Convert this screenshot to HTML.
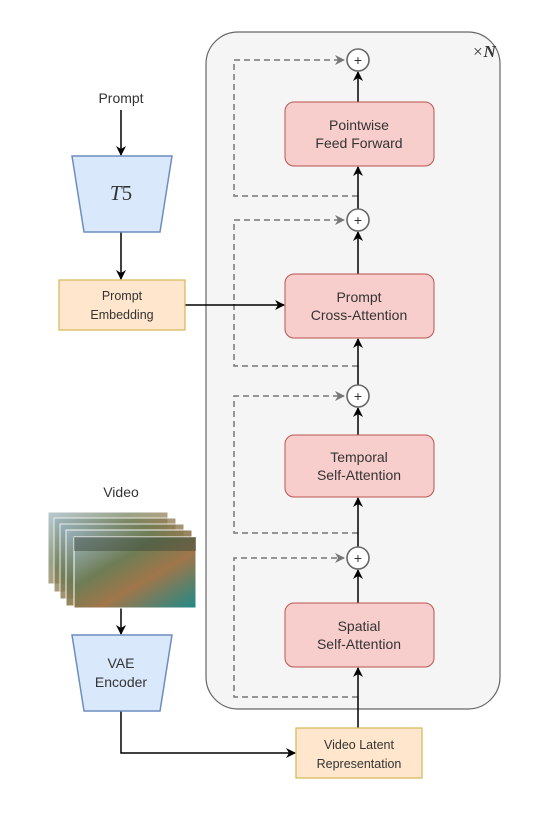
<!DOCTYPE html>
<html><head><meta charset="utf-8"><style>
body{margin:0;background:#fff;}
svg text{font-family:"Liberation Sans",sans-serif;fill:#333;}
</style></head><body>
<svg width="555" height="808" viewBox="0 0 555 808" xmlns="http://www.w3.org/2000/svg">
<defs>
<marker id="a" markerWidth="10" markerHeight="10" refX="9" refY="5" orient="auto" markerUnits="userSpaceOnUse"><path d="M0,0 L10,5 L0,10 L3,5 z" fill="#000"/></marker>
<marker id="g" markerWidth="10" markerHeight="10" refX="9" refY="5" orient="auto" markerUnits="userSpaceOnUse"><path d="M0,0 L10,5 L0,10 L3,5 z" fill="#777"/></marker>
<linearGradient id="img" x1="0" y1="0" x2="1" y2="1">
<stop offset="0" stop-color="#9bb3c0"/><stop offset="0.35" stop-color="#6e7d55"/><stop offset="0.6" stop-color="#a0764a"/><stop offset="1" stop-color="#1f8a88"/></linearGradient>
</defs>
<rect x="206" y="32" width="294" height="677" rx="32" fill="#f5f5f5" stroke="#666" stroke-width="1.2"/>
<text x="472" y="57" font-size="17" font-style="italic" style="font-family:'Liberation Serif',serif">×<tspan font-weight="bold">N</tspan></text>

<g fill="none" stroke="#777" stroke-width="1.5" stroke-dasharray="6,4">
<path d="M358 196 H234 V60 H344" marker-end="url(#g)"/>
<path d="M358 366 H234 V220 H344" marker-end="url(#g)"/>
<path d="M358 533 H234 V396 H344" marker-end="url(#g)"/>
<path d="M358 697 H234 V558 H344" marker-end="url(#g)"/>
</g>
<g stroke="#000" stroke-width="1.5" fill="none">
<line x1="358" y1="728" x2="358" y2="668" marker-end="url(#a)"/>
<line x1="358" y1="603" x2="358" y2="570" marker-end="url(#a)"/>
<line x1="358" y1="547" x2="358" y2="498" marker-end="url(#a)"/>
<line x1="358" y1="435" x2="358" y2="408" marker-end="url(#a)"/>
<line x1="358" y1="385" x2="358" y2="339" marker-end="url(#a)"/>
<line x1="358" y1="274" x2="358" y2="232" marker-end="url(#a)"/>
<line x1="358" y1="209" x2="358" y2="167" marker-end="url(#a)"/>
<line x1="358" y1="102" x2="358" y2="72" marker-end="url(#a)"/>
<line x1="121" y1="110" x2="121" y2="155" marker-end="url(#a)"/>
<line x1="121" y1="232" x2="121" y2="279" marker-end="url(#a)"/>
<line x1="185" y1="305" x2="284" y2="305" marker-end="url(#a)"/>
<line x1="121" y1="608" x2="121" y2="634" marker-end="url(#a)"/>
<path d="M121 711 V753 H295" marker-end="url(#a)"/>
</g>
<g fill="#fff" stroke="#666" stroke-width="1.6">
<circle cx="358" cy="60" r="11"/><circle cx="358" cy="220" r="11"/><circle cx="358" cy="396" r="11"/><circle cx="358" cy="558" r="11"/>
</g>
<g font-size="14" text-anchor="middle">
<text x="358" y="65">+</text><text x="358" y="225">+</text><text x="358" y="401">+</text><text x="358" y="563">+</text>
</g>
<g fill="#f8cecc" stroke="#b85450" stroke-width="1">
<rect x="285" y="102" width="149" height="64" rx="9"/>
<rect x="285" y="274" width="149" height="64" rx="9"/>
<rect x="285" y="435" width="149" height="62" rx="9"/>
<rect x="285" y="603" width="149" height="64" rx="9"/>
</g>
<g font-size="14" text-anchor="middle">
<text x="359" y="130">Pointwise</text><text x="359" y="148">Feed Forward</text>
<text x="359" y="302">Prompt</text><text x="359" y="320">Cross-Attention</text>
<text x="359" y="462">Temporal</text><text x="359" y="480">Self-Attention</text>
<text x="359" y="631">Spatial</text><text x="359" y="649">Self-Attention</text>
</g>
<text x="121" y="103" font-size="14" text-anchor="middle">Prompt</text>
<polygon points="72,156 172,156 160,232 84,232" fill="#dae8fc" stroke="#6c8ebf" stroke-width="1.5"/>
<text x="121" y="200" font-size="21" text-anchor="middle" style="font-family:'Liberation Serif',serif"><tspan font-style="italic">T</tspan>5</text>
<rect x="59" y="280" width="126" height="50" fill="#ffe6cc" stroke="#d6b656" stroke-width="1.2"/>
<text x="122" y="300" font-size="12.5" text-anchor="middle">Prompt</text>
<text x="122" y="319" font-size="12.5" text-anchor="middle">Embedding</text>

<text x="121" y="497" font-size="14" text-anchor="middle">Video</text>
<g stroke="#fff" stroke-width="1">
<rect x="48" y="512" width="120" height="72" fill="url(#img)" opacity="0.7"/>
<rect x="54" y="518" width="122" height="74" fill="url(#img)" opacity="0.75"/>
<rect x="60" y="524" width="124" height="75" fill="url(#img)" opacity="0.8"/>
<rect x="66" y="530" width="126" height="76" fill="url(#img)" opacity="0.9"/>
<rect x="74" y="537" width="122" height="71" fill="url(#img)"/>
</g>
<rect x="74" y="537" width="122" height="14" fill="#3d4a3a" opacity="0.5"/>
<polygon points="72,635 172,635 160,711 84,711" fill="#dae8fc" stroke="#6c8ebf" stroke-width="1.5"/>
<text x="121" y="668" font-size="14" text-anchor="middle">VAE</text>
<text x="121" y="687" font-size="14" text-anchor="middle">Encoder</text>
<rect x="296" y="728" width="126" height="50" fill="#ffe6cc" stroke="#d6b656" stroke-width="1.2"/>
<text x="359" y="749" font-size="12.5" text-anchor="middle">Video Latent</text>
<text x="359" y="768" font-size="12.5" text-anchor="middle">Representation</text>
</svg>
</body></html>
